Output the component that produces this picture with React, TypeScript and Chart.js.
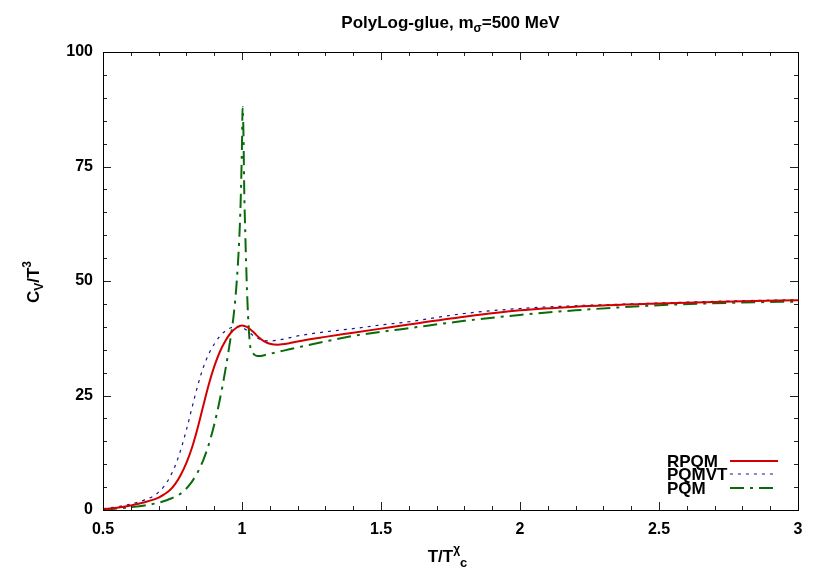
import React, { useEffect, useRef } from "react";
import { Chart, registerables } from "chart.js";

Chart.register(...registerables);

const xTicks = [0.5, 1, 1.5, 2, 2.5, 3];
const yTicks = [0, 25, 50, 75, 100];

const rpqmX = [0.5, 0.55, 0.6, 0.65, 0.7, 0.72, 0.74, 0.76, 0.78, 0.8, 0.82, 0.84, 0.86, 0.88, 0.9, 0.92, 0.94, 0.96, 0.98, 1.0, 1.02, 1.04, 1.06, 1.08, 1.1, 1.13, 1.17, 1.2, 1.3, 1.4, 1.5, 1.6, 1.8, 2.0, 2.2, 2.5, 2.8, 3.0];
const rpqmY = [0.2, 0.5, 1.0, 1.7, 2.7, 3.4, 4.3, 5.7, 7.7, 10.3, 13.6, 17.8, 22.6, 27.3, 31.3, 34.5, 36.9, 38.7, 39.8, 40.3, 39.9, 38.9, 37.7, 36.8, 36.3, 36.1, 36.4, 36.8, 37.8, 38.7, 39.6, 40.5, 42.2, 43.6, 44.4, 45.1, 45.6, 45.8];

const pqmvtX = [0.5, 0.55, 0.6, 0.65, 0.68, 0.7, 0.72, 0.74, 0.76, 0.78, 0.8, 0.82, 0.84, 0.86, 0.88, 0.9, 0.92, 0.94, 0.96, 0.98, 1.0, 1.02, 1.04, 1.06, 1.08, 1.1, 1.13, 1.17, 1.2, 1.3, 1.4, 1.5, 1.6, 1.8, 2.0, 2.2, 2.5, 2.8, 3.0];
const pqmvtY = [0.3, 0.7, 1.3, 2.2, 3.0, 3.9, 5.2, 7.1, 9.7, 13.2, 17.5, 22.3, 27.0, 31.0, 34.0, 36.2, 37.9, 39.1, 39.8, 40.1, 39.9, 39.1, 38.1, 37.4, 37.0, 36.9, 37.1, 37.6, 38.0, 38.9, 39.6, 40.4, 41.1, 42.9, 44.0, 44.6, 45.2, 45.7, 45.9];

const pqmX = [0.5, 0.55, 0.6, 0.65, 0.7, 0.74, 0.78, 0.8, 0.82, 0.84, 0.86, 0.88, 0.9, 0.92, 0.94, 0.96, 0.97, 0.98, 0.99, 0.995, 1.0, 1.002, 1.005, 1.008, 1.012, 1.018, 1.023, 1.029, 1.04, 1.05, 1.065, 1.08, 1.1, 1.15, 1.2, 1.3, 1.4, 1.5, 1.6, 1.8, 2.0, 2.2, 2.5, 2.8, 3.0];
const pqmY = [0.1, 0.3, 0.6, 1.0, 1.6, 2.4, 3.6, 4.7, 6.2, 8.2, 10.8, 14.2, 18.6, 24.0, 30.5, 38.0, 42.5, 49.0, 59.0, 67.0, 80.0, 88.0, 83.0, 70.0, 60.0, 48.0, 41.0, 36.0, 34.2, 33.7, 33.6, 33.8, 34.1, 34.8, 35.5, 36.8, 38.0, 38.9, 39.7, 41.3, 42.6, 43.6, 44.7, 45.3, 45.5];

const seriesNames = ["RPQM", "PQMVT", "PQM"];
const colors = ["#d40000", "#14148c", "#0b6b0b"];
const widths = [2, 1.2, 2];
const dashes: number[][] = [[], [3, 5], [14, 6, 3, 6]];

const FONT = "'Liberation Sans', Arial, Helvetica, sans-serif";

type Part = { t: string; size: number; dy: number };

function drawRich(ctx: CanvasRenderingContext2D, parts: Part[], cx: number, baseY: number) {
  let total = 0;
  for (const p of parts) {
    ctx.font = `bold ${p.size}px ${FONT}`;
    total += ctx.measureText(p.t).width;
  }
  let x = cx - total / 2;
  ctx.textAlign = "left";
  ctx.textBaseline = "alphabetic";
  for (const p of parts) {
    ctx.font = `bold ${p.size}px ${FONT}`;
    ctx.fillText(p.t, x, baseY + p.dy);
    x += ctx.measureText(p.t).width;
  }
}

const decor = {
  id: "decor",
  afterDatasetsDraw(chart: any) {
    const ctx: CanvasRenderingContext2D = chart.ctx;
    const { left, right, top, bottom } = chart.chartArea;
    const xs = chart.scales.x;
    const ys = chart.scales.y;
    ctx.save();
    ctx.strokeStyle = "#222";
    ctx.lineWidth = 1;
    ctx.setLineDash([]);
    ctx.beginPath();
    for (let i = 0; i <= 25; i++) {
      const v = 0.5 + i * 0.1;
      const px = Math.round(xs.getPixelForValue(v)) + 0.5;
      const len = i % 5 === 0 ? 8 : 4;
      ctx.moveTo(px, bottom);
      ctx.lineTo(px, bottom - len);
      ctx.moveTo(px, top);
      ctx.lineTo(px, top + len);
    }
    for (let i = 0; i <= 20; i++) {
      const v = i * 5;
      const py = Math.round(ys.getPixelForValue(v)) + 0.5;
      const len = i % 5 === 0 ? 8 : 4;
      ctx.moveTo(left, py);
      ctx.lineTo(left + len, py);
      ctx.moveTo(right, py);
      ctx.lineTo(right - len, py);
    }
    ctx.stroke();
    ctx.strokeStyle = "#000";
    ctx.strokeRect(Math.round(left) + 0.5, Math.round(top) + 0.5, Math.round(right - left), Math.round(bottom - top));

    ctx.fillStyle = "#000";
    // title
    drawRich(ctx, [
      { t: "PolyLog-glue, m", size: 17, dy: 0 },
      { t: "σ", size: 12, dy: 4 },
      { t: "=500 MeV", size: 17, dy: 0 },
    ], (left + right) / 2, 28);
    // x label
    drawRich(ctx, [
      { t: "T/T", size: 17, dy: 0 },
      { t: "χ", size: 12, dy: -9 },
      { t: "c", size: 13, dy: 5 },
    ], (left + right) / 2 - 3, 562);
    // y label
    ctx.save();
    ctx.translate(39, 282);
    ctx.rotate(-Math.PI / 2);
    drawRich(ctx, [
      { t: "C", size: 17, dy: 0 },
      { t: "V", size: 12, dy: 4 },
      { t: "/T", size: 17, dy: 0 },
      { t: "3", size: 12, dy: -8 },
    ], 0, 0);
    ctx.restore();

    // legend
    const rows = [461, 474, 488];
    for (let i = 0; i < 3; i++) {
      ctx.font = `bold 17px ${FONT}`;
      ctx.textAlign = "left";
      ctx.textBaseline = "middle";
      ctx.fillStyle = "#000";
      ctx.fillText(seriesNames[i], 667, rows[i] + 1);
      ctx.strokeStyle = colors[i];
      ctx.lineWidth = widths[i];
      ctx.setLineDash(dashes[i]);
      ctx.beginPath();
      ctx.moveTo(730, rows[i]);
      ctx.lineTo(778, rows[i]);
      ctx.stroke();
    }
    ctx.restore();
  },
};

function pts(xs: number[], ys: number[]) {
  return xs.map((x, i) => ({ x, y: ys[i] }));
}

export default function App() {
  const ref = useRef<HTMLCanvasElement | null>(null);
  useEffect(() => {
    if (!ref.current) return;
    const data = [pts(rpqmX, rpqmY), pts(pqmvtX, pqmvtY), pts(pqmX, pqmY)];
    const chart = new Chart(ref.current, {
      type: "line",
      data: {
        datasets: data.map((d, i) => ({
          label: seriesNames[i],
          data: d,
          borderColor: colors[i],
          borderWidth: widths[i],
          borderDash: dashes[i],
          pointRadius: 0,
          fill: false,
          cubicInterpolationMode: "monotone" as const,
        })),
      },
      options: {
        responsive: false,
        animation: false,
        devicePixelRatio: 1,
        layout: { padding: { top: 52, right: 32, left: 0, bottom: 0 } },
        plugins: { legend: { display: false }, title: { display: false }, tooltip: { enabled: false } },
        scales: {
          x: {
            type: "linear",
            min: 0.5,
            max: 3,
            afterFit: (s: any) => { s.height = 71; },
            afterBuildTicks: (s: any) => { s.ticks = xTicks.map((v) => ({ value: v })); },
            grid: { display: false, drawTicks: false },
            border: { display: false },
            ticks: {
              padding: 10,
              color: "#000",
              font: { family: FONT, size: 16, weight: "bold" },
              callback: (v: any) => String(v),
              maxRotation: 0,
            },
          },
          y: {
            type: "linear",
            min: 0,
            max: 100,
            afterFit: (s: any) => { s.width = 103; },
            afterBuildTicks: (s: any) => { s.ticks = yTicks.map((v) => ({ value: v })); },
            grid: { display: false, drawTicks: false },
            border: { display: false },
            ticks: {
              padding: 10,
              color: "#000",
              font: { family: FONT, size: 16, weight: "bold" },
              callback: (v: any) => String(v),
            },
          },
        },
      },
      plugins: [decor],
    });
    return () => chart.destroy();
  }, []);
  return (
    <div style={{ position: "absolute", left: 0, top: 0, width: 830, height: 581, background: "#fff" }}>
      <canvas ref={ref} width={830} height={581} />
    </div>
  );
}
